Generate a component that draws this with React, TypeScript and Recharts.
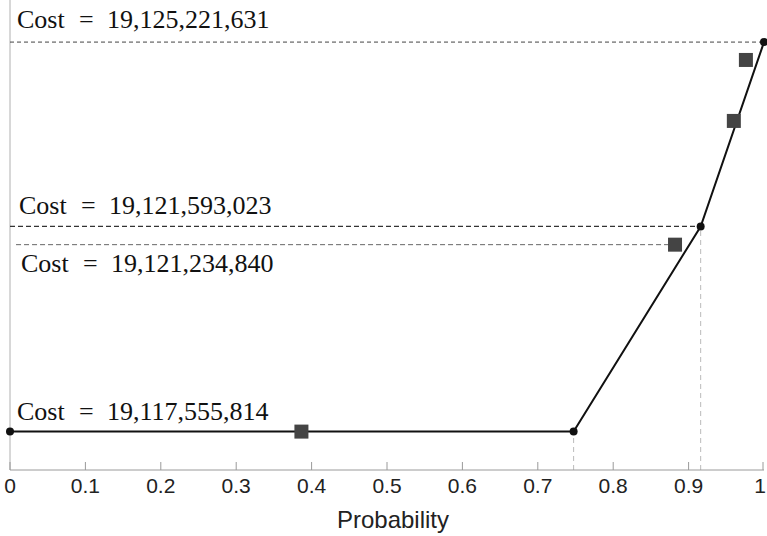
import React from "react";
import {
  ComposedChart,
  Line,
  Scatter,
  XAxis,
  YAxis,
  ReferenceLine,
} from "recharts";

// piecewise-linear cost curve (probability -> cost)
const probability = [0, 0.7475, 0.916, 1];
const cost = [19117555814, 19117555814, 19121593023, 19125221631];

// square markers
const markerProb = [0.3865, 0.882, 0.96, 0.976];
const markerCost = [19117555814, 19121234840, 19123670000, 19124870000];

const xTicks = [0, 0.1, 0.2, 0.3, 0.4, 0.5, 0.6, 0.7, 0.8, 0.9, 1];
const yMin = 19116800000;
const yMax = 19126050000;

const fmt = (v: number) => v.toLocaleString("en-US");

const lineData = probability.map((p, i) => ({ p, c: cost[i] }));
const markerData = markerProb.map((p, i) => ({ p, c: markerCost[i] }));

const SERIF = "'Liberation Serif', 'Times New Roman', serif";
const SANS = "'Liberation Sans', Arial, sans-serif";

const Tick = (props: any) => {
  const { x, y, payload } = props;
  const last = payload.value === 1;
  return (
    <g>
      <line x1={x} x2={x} y1={y} y2={y - 8} stroke="#9a9a9a" strokeWidth={1} />
      <text
        x={last ? x + 3 : x}
        y={y + 23}
        textAnchor={last ? "end" : "middle"}
        fontFamily={SANS}
        fontSize={21}
        fill="#222"
      >
        {String(payload.value)}
      </text>
    </g>
  );
};

const Square = (props: any) => {
  const { cx, cy } = props;
  return <rect x={cx - 7} y={cy - 7} width={14} height={14} fill="#444" />;
};

// "Cost = n" label drawn in three pieces to mimic the wide math spacing
const costLabel = (value: number, dx: number, dy: number) => (props: any) => {
  const vb = props.viewBox || {};
  const x0 = (vb.x ?? 0) + dx;
  const y0 = (vb.y ?? 0) + dy;
  return (
    <text y={y0} fontFamily={SERIF} fontSize={26} fill="#111">
      <tspan x={x0}>Cost</tspan>
      <tspan x={x0 + 62}>=</tspan>
      <tspan x={x0 + 90}>{fmt(value)}</tspan>
    </text>
  );
};

export default function App() {
  return (
    <div style={{ position: "absolute", left: 0, top: 0, background: "#fff" }}>
      <ComposedChart
        width={767}
        height={536}
        margin={{ top: 0, right: 3, bottom: 0, left: 10 }}
      >
        <XAxis
          dataKey="p"
          type="number"
          domain={[0, 1]}
          ticks={xTicks}
          tick={<Tick />}
          tickLine={false}
          tickSize={0}
          tickMargin={0}
          height={66}
          stroke="#9a9a9a"
          label={{
            value: "Probability",
            position: "insideBottom",
            offset: 8,
            dx: 6,
            fontFamily: SANS,
            fontSize: 24,
            fill: "#222",
          }}
        />
        <YAxis
          dataKey="c"
          type="number"
          domain={[yMin, yMax]}
          width={0}
          tick={false}
          tickLine={false}
          axisLine={false}
        />

        {/* left frame line */}
        <ReferenceLine x={0} stroke="#b0b0b0" />

        {/* vertical guides from the kinks */}
        <ReferenceLine
          segment={[
            { x: probability[1], y: yMin },
            { x: probability[1], y: cost[1] },
          ]}
          stroke="#bbbbbb"
          strokeDasharray="5 4"
        />
        <ReferenceLine
          segment={[
            { x: probability[2], y: yMin },
            { x: probability[2], y: cost[2] },
          ]}
          stroke="#bbbbbb"
          strokeDasharray="5 4"
        />

        {/* horizontal cost guides */}
        <ReferenceLine
          segment={[
            { x: 0, y: cost[3] },
            { x: 1, y: cost[3] },
          ]}
          stroke="#444"
          strokeDasharray="4 3"
          label={costLabel(cost[3], 7, -14.5)}
        />
        <ReferenceLine
          segment={[
            { x: 0, y: cost[2] },
            { x: probability[2], y: cost[2] },
          ]}
          stroke="#333"
          strokeWidth={1.2}
          strokeDasharray="5 3"
          label={costLabel(cost[2], 9, -12)}
        />
        <ReferenceLine
          segment={[
            { x: 0.008, y: markerCost[1] },
            { x: markerProb[1], y: markerCost[1] },
          ]}
          stroke="#666"
          strokeDasharray="5 3"
          label={costLabel(markerCost[1], 5, 27)}
        />
        <ReferenceLine
          segment={[
            { x: 0, y: cost[0] },
            { x: 0.3, y: cost[0] },
          ]}
          stroke="none"
          label={costLabel(cost[0], 7, -12)}
        />

        <Line
          data={lineData}
          dataKey="c"
          type="linear"
          stroke="#111"
          strokeWidth={2}
          dot={{ r: 4, fill: "#111", stroke: "none" }}
          isAnimationActive={false}
        />
        <Scatter
          data={markerData}
          dataKey="c"
          shape={<Square />}
          isAnimationActive={false}
        />
      </ComposedChart>
    </div>
  );
}
